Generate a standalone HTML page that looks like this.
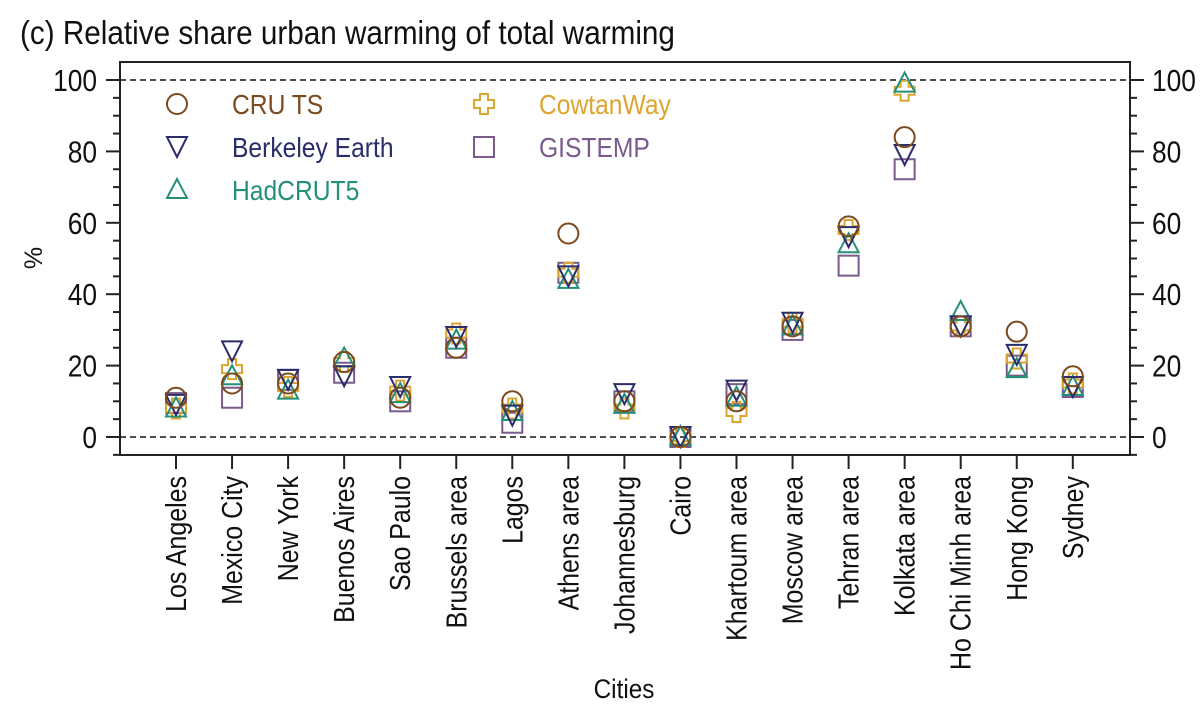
<!DOCTYPE html>
<html><head><meta charset="utf-8"><style>
html,body{margin:0;padding:0;background:#fff;}
svg{display:block;font-family:"Liberation Sans Narrow","Liberation Sans",sans-serif;}
</style></head><body>
<svg id="chart" width="1203" height="720">
<text transform="translate(20,44) scale(0.9,1)" font-size="33" fill="#111">(c) Relative share urban warming of total warming</text>
<g id="axes"></g><g id="marks"></g><g id="legend"></g>
<text transform="translate(624,698) scale(0.9,1)" font-size="27" text-anchor="middle" fill="#111">Cities</text>
<text transform="translate(42,258) rotate(-90)" font-size="25" text-anchor="middle" fill="#111">%</text>
</svg>
<script>
const cities=["Los Angeles","Mexico City","New York","Buenos Aires","Sao Paulo","Brussels area","Lagos","Athens area","Johannesburg","Cairo","Khartoum area","Moscow area","Tehran area","Kolkata area","Ho Chi Minh area","Hong Kong","Sydney"];
const cruTS=[11,15,15,21,11,25,10,57,10,0,10,31,59,84,31,29.5,17];
const berkeley=[9,24,16,17,14,28,6,45,12,0,13,32,56,79,31,23,14];
const hadcrut5=[8,17,13,22,12,27,7,44,9,0,11,31,54,99,35,19,14];
const cowtanWay=[8,19,14,21,13,29,8,46,8,0,7,32,58,97,31,22,15];
const gistemp=[9.5,11,16,18,10,25,4,46,10,0,12,30,48,75,31,20,14];
const yTicks=[0,20,40,60,80,100];
const NS="http://www.w3.org/2000/svg";
const L=120,R=1130,T=62,B=455;
const y=v=>437-v*3.57;
const x=i=>176+i*56.05;
function mk(tag,attrs,parent){const e=document.createElementNS(NS,tag);for(const k in attrs)e.setAttribute(k,attrs[k]);parent.appendChild(e);return e;}
const axes=document.getElementById('axes'),marks=document.getElementById('marks'),legend=document.getElementById('legend');
let fr=mk('rect',{x:L,y:T,width:R-L,height:B-T,fill:'none',stroke:'#222','stroke-width':2},axes);


[0,100].forEach(v=>{let l=mk('line',{x1:L,x2:R,y1:y(v),y2:y(v),stroke:'#111','stroke-width':1.5,'stroke-dasharray':'6,4'},axes);

});
for(let v=-5;v<=100;v+=5){const len=v%20==0?14:7;
mk('line',{x1:L,x2:L-len,y1:y(v),y2:y(v),stroke:'#222','stroke-width':2},axes);
mk('line',{x1:R,x2:R+len,y1:y(v),y2:y(v),stroke:'#222','stroke-width':2},axes);}
yTicks.forEach(v=>{
let t=mk('text',{transform:`translate(97,${y(v)+11}) scale(0.85,1)`,'font-size':31,'text-anchor':'end',fill:'#111'},axes);t.textContent=v;


let t2=mk('text',{transform:`translate(1152,${y(v)+11}) scale(0.85,1)`,'font-size':31,'text-anchor':'start',fill:'#111'},axes);t2.textContent=v;

});
cities.forEach((c,i)=>{
mk('line',{x1:x(i),x2:x(i),y1:B,y2:B+14,stroke:'#222','stroke-width':2},axes);
let t=mk('text',{transform:`translate(${x(i)+10},476) rotate(-90) scale(0.86,1)`,'font-size':29,'text-anchor':'end',fill:'#111'},axes);t.textContent=c;

});
const s=10;
function shape(type,cx,cy,col,parent){
const a={fill:'none',stroke:col,'stroke-width':2};let e;
if(type=='o')e=mk('circle',Object.assign({cx,cy,r:s},a),parent);
else if(type=='v')e=mk('polygon',Object.assign({points:`${cx-s},${cy-s} ${cx+s},${cy-s} ${cx},${cy+s}`},a),parent);
else if(type=='^')e=mk('polygon',Object.assign({points:`${cx-s},${cy+s*0.8} ${cx+s},${cy+s*0.8} ${cx},${cy-s*1.1}`},a),parent);
else if(type=='+'){const w=4;e=mk('polygon',Object.assign({points:`${cx-w},${cy-s} ${cx+w},${cy-s} ${cx+w},${cy-w} ${cx+s},${cy-w} ${cx+s},${cy+w} ${cx+w},${cy+w} ${cx+w},${cy+s} ${cx-w},${cy+s} ${cx-w},${cy+w} ${cx-s},${cy+w} ${cx-s},${cy-w} ${cx-w},${cy-w}`},a),parent);}
else e=mk('rect',Object.assign({x:cx-s,y:cy-s,width:2*s,height:2*s},a),parent);
return e;}
const series=[["CRU TS",cruTS,'o','#7b4a1e'],["Berkeley Earth",berkeley,'v','#2b2d6b'],["HadCRUT5",hadcrut5,'^','#23907a'],["CowtanWay",cowtanWay,'+','#dca530'],["GISTEMP",gistemp,'s','#7a5b8c']];
[4,3,2,1,0].forEach(k=>{const [nm,vals,tp,col]=series[k];
vals.forEach((v,i)=>{const e=shape(tp,x(i),y(v),col,marks);

});});
const lpos=[[177,104],[177,147],[177,190],[484,104],[484,147]];
series.forEach(([nm,vals,tp,col],k)=>{const [lx,ly]=lpos[k];
const g=mk('g',{},legend);


shape(tp,lx,ly,col,g);
const t=mk('text',{transform:`translate(${lx+55},${ly+10}) scale(0.88,1)`,'font-size':28,fill:col},g);t.textContent=nm;});
</script>
</body></html>
